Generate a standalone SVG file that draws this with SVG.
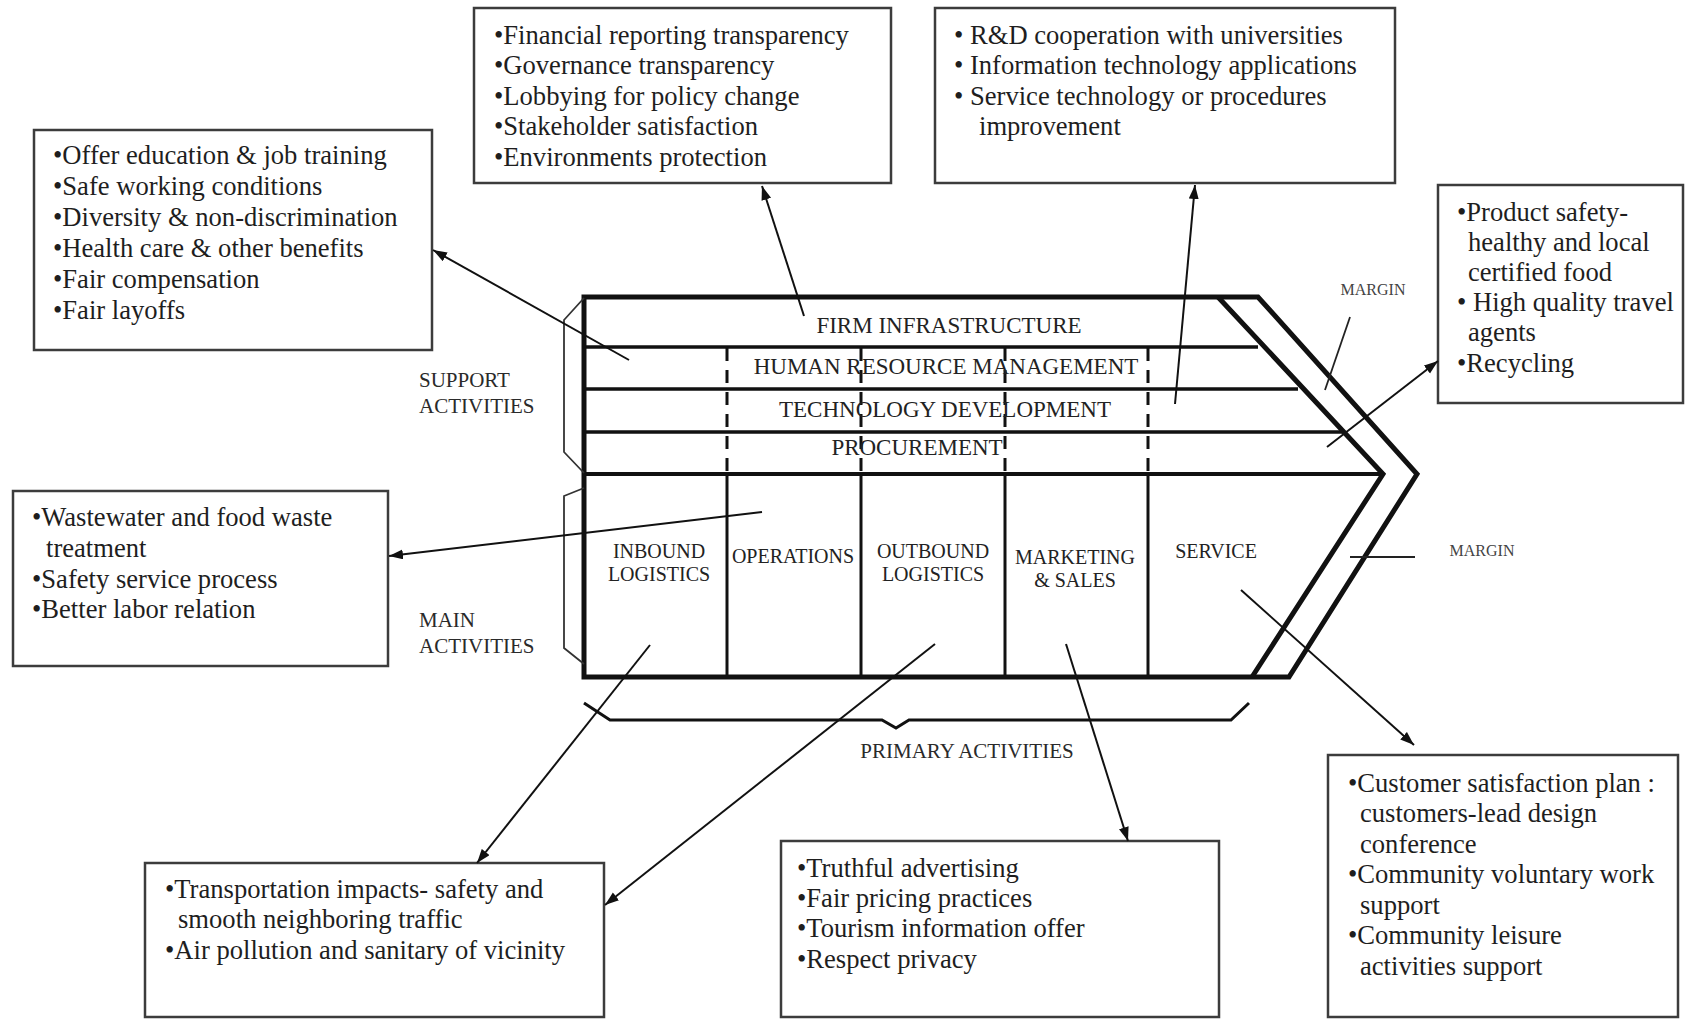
<svg xmlns="http://www.w3.org/2000/svg" width="1685" height="1019" viewBox="0 0 1685 1019">
<defs>
<marker id="ah" markerUnits="userSpaceOnUse" markerWidth="15" markerHeight="11" refX="14" refY="5" orient="auto">
<path d="M0,0 L14,5 L0,10 z" fill="#111"/>
</marker>
<style>
.box{fill:#fff;stroke:#3c3c3c;stroke-width:2.5}
.t{font-family:"Liberation Serif","Times New Roman",serif;font-size:26.6px;fill:#1e1e1e}
.c{font-family:"Liberation Serif","Times New Roman",serif;font-size:23px;fill:#222;text-anchor:middle}
.l{font-family:"Liberation Serif","Times New Roman",serif;font-size:20px;fill:#222;text-anchor:middle}
.s{font-family:"Liberation Serif","Times New Roman",serif;font-size:21px;fill:#2a2a2a}
.m{font-family:"Liberation Serif","Times New Roman",serif;font-size:16px;fill:#444;text-anchor:middle}
.thick{fill:none;stroke:#111;stroke-width:5;stroke-linejoin:miter}
.row{stroke:#111;stroke-width:3.5}
.col{stroke:#111;stroke-width:3}
.dash{stroke:#111;stroke-width:3;stroke-dasharray:13 9}
.thin{fill:none;stroke:#333;stroke-width:1.8}
.conn{stroke:#111;stroke-width:2;fill:none;marker-end:url(#ah)}
</style>
</defs>
<rect width="1685" height="1019" fill="#fff"/>

<g id="value-chain">
<line class="row" x1="584" y1="347" x2="1258" y2="347"/>
<line class="row" x1="584" y1="389" x2="1298" y2="389"/>
<line class="row" x1="584" y1="432" x2="1342" y2="432"/>
<line class="row" x1="584" y1="474" x2="1383" y2="474" style="stroke-width:4"/>
<line class="dash" x1="727" y1="348" x2="727" y2="474"/>
<line class="dash" x1="861" y1="348" x2="861" y2="474"/>
<line class="dash" x1="1005" y1="348" x2="1005" y2="474"/>
<line class="dash" x1="1148" y1="348" x2="1148" y2="474"/>
<line class="col" x1="727" y1="474" x2="727" y2="677"/>
<line class="col" x1="861" y1="474" x2="861" y2="677"/>
<line class="col" x1="1005" y1="474" x2="1005" y2="677"/>
<line class="col" x1="1148" y1="474" x2="1148" y2="677"/>
<path class="thick" d="M584,297 L1258,297 L1417,474 L1289,677 L584,677 Z"/>
<path class="thick" d="M1218,297 L1383,474 L1252,677"/>
<text class="c" x="949" y="333">FIRM INFRASTRUCTURE</text>
<text class="c" x="946" y="374">HUMAN RESOURCE MANAGEMENT</text>
<text class="c" x="945" y="417">TECHNOLOGY DEVELOPMENT</text>
<text class="c" x="917" y="455">PROCUREMENT</text>
<text class="l" x="659" y="558">INBOUND</text>
<text class="l" x="659" y="581">LOGISTICS</text>
<text class="l" x="793" y="563">OPERATIONS</text>
<text class="l" x="933" y="558">OUTBOUND</text>
<text class="l" x="933" y="581">LOGISTICS</text>
<text class="l" x="1075" y="564">MARKETING</text>
<text class="l" x="1075" y="587">&amp; SALES</text>
<text class="l" x="1216" y="558">SERVICE</text>
</g>

<g id="support-bracket">
<path class="thin" d="M584,298 L564,320 L564,452 L584,473"/>
<text class="s" x="419" y="387">SUPPORT</text>
<text class="s" x="419" y="413">ACTIVITIES</text>
</g>

<g id="main-bracket">
<path class="thin" d="M584,488 L564,496 L564,648 L584,664"/>
<text class="s" x="419" y="627">MAIN</text>
<text class="s" x="419" y="653">ACTIVITIES</text>
</g>

<g id="primary-bracket">
<path d="M584,703 L610,720 L882,720 L896,728 L909,720 L1231,720 L1249,703" fill="none" stroke="#111" stroke-width="3"/>
<text class="s" x="967" y="758" text-anchor="middle">PRIMARY ACTIVITIES</text>
</g>

<g id="margin-labels">
<line x1="1350" y1="317" x2="1325" y2="390" stroke="#222" stroke-width="1.8"/>
<text class="m" x="1373" y="295">MARGIN</text>
<line x1="1350" y1="557" x2="1415" y2="557" stroke="#222" stroke-width="1.8"/>
<text class="m" x="1482" y="556">MARGIN</text>
</g>

<g id="box-hr">
<rect class="box" x="34" y="130" width="398" height="220"/>
<text class="t" x="53" y="164">•Offer education &amp; job training</text>
<text class="t" x="53" y="195">•Safe working conditions</text>
<text class="t" x="53" y="226">•Diversity &amp; non-discrimination</text>
<text class="t" x="53" y="257">•Health care &amp; other benefits</text>
<text class="t" x="53" y="288">•Fair compensation</text>
<text class="t" x="53" y="319">•Fair layoffs</text>
</g>

<g id="box-infrastructure">
<rect class="box" x="474" y="8" width="417" height="175"/>
<text class="t" x="494" y="44">•Financial reporting transparency</text>
<text class="t" x="494" y="74">•Governance transparency</text>
<text class="t" x="494" y="105">•Lobbying for policy change</text>
<text class="t" x="494" y="135">•Stakeholder satisfaction</text>
<text class="t" x="494" y="166">•Environments protection</text>
</g>

<g id="box-technology">
<rect class="box" x="935" y="8" width="460" height="175"/>
<text class="t" x="954" y="44">• R&amp;D cooperation with universities</text>
<text class="t" x="954" y="74">• Information technology applications</text>
<text class="t" x="954" y="105">• Service technology or procedures</text>
<text class="t" x="979" y="135">improvement</text>
</g>

<g id="box-procurement">
<rect class="box" x="1438" y="185" width="245" height="218"/>
<text class="t" x="1457" y="221">•Product safety-</text>
<text class="t" x="1468" y="251">healthy and local</text>
<text class="t" x="1468" y="281">certified food</text>
<text class="t" x="1457" y="311">• High quality travel</text>
<text class="t" x="1468" y="341">agents</text>
<text class="t" x="1457" y="372">•Recycling</text>
</g>

<g id="box-operations">
<rect class="box" x="13" y="491" width="375" height="175"/>
<text class="t" x="32" y="526">•Wastewater and food waste</text>
<text class="t" x="46" y="557">treatment</text>
<text class="t" x="32" y="588">•Safety service process</text>
<text class="t" x="32" y="618">•Better labor relation</text>
</g>

<g id="box-logistics">
<rect class="box" x="145" y="863" width="459" height="154"/>
<text class="t" x="165" y="898">•Transportation impacts- safety and</text>
<text class="t" x="178" y="928">smooth neighboring traffic</text>
<text class="t" x="165" y="959">•Air pollution and sanitary of vicinity</text>
</g>

<g id="box-marketing">
<rect class="box" x="781" y="841" width="438" height="176"/>
<text class="t" x="797" y="877">•Truthful advertising</text>
<text class="t" x="797" y="907">•Fair pricing practices</text>
<text class="t" x="797" y="937">•Tourism information offer</text>
<text class="t" x="797" y="968">•Respect privacy</text>
</g>

<g id="box-service">
<rect class="box" x="1328" y="755" width="350" height="262"/>
<text class="t" x="1348" y="792">•Customer satisfaction plan :</text>
<text class="t" x="1360" y="822">customers-lead design</text>
<text class="t" x="1360" y="853">conference</text>
<text class="t" x="1348" y="883">•Community voluntary work</text>
<text class="t" x="1360" y="914">support</text>
<text class="t" x="1348" y="944">•Community leisure</text>
<text class="t" x="1360" y="975">activities support</text>
</g>

<g id="connectors">
<line class="conn" x1="629" y1="360" x2="433" y2="250"/>
<line class="conn" x1="804" y1="316" x2="762" y2="186"/>
<line class="conn" x1="1175" y1="404" x2="1195" y2="185"/>
<line class="conn" x1="1327" y1="447" x2="1438" y2="361"/>
<line class="conn" x1="762" y1="512" x2="389" y2="556"/>
<line class="conn" x1="650" y1="645" x2="477" y2="863"/>
<line class="conn" x1="935" y1="644" x2="605" y2="905"/>
<line class="conn" x1="1066" y1="644" x2="1128" y2="841"/>
<line class="conn" x1="1241" y1="590" x2="1414" y2="745"/>
</g>
</svg>
